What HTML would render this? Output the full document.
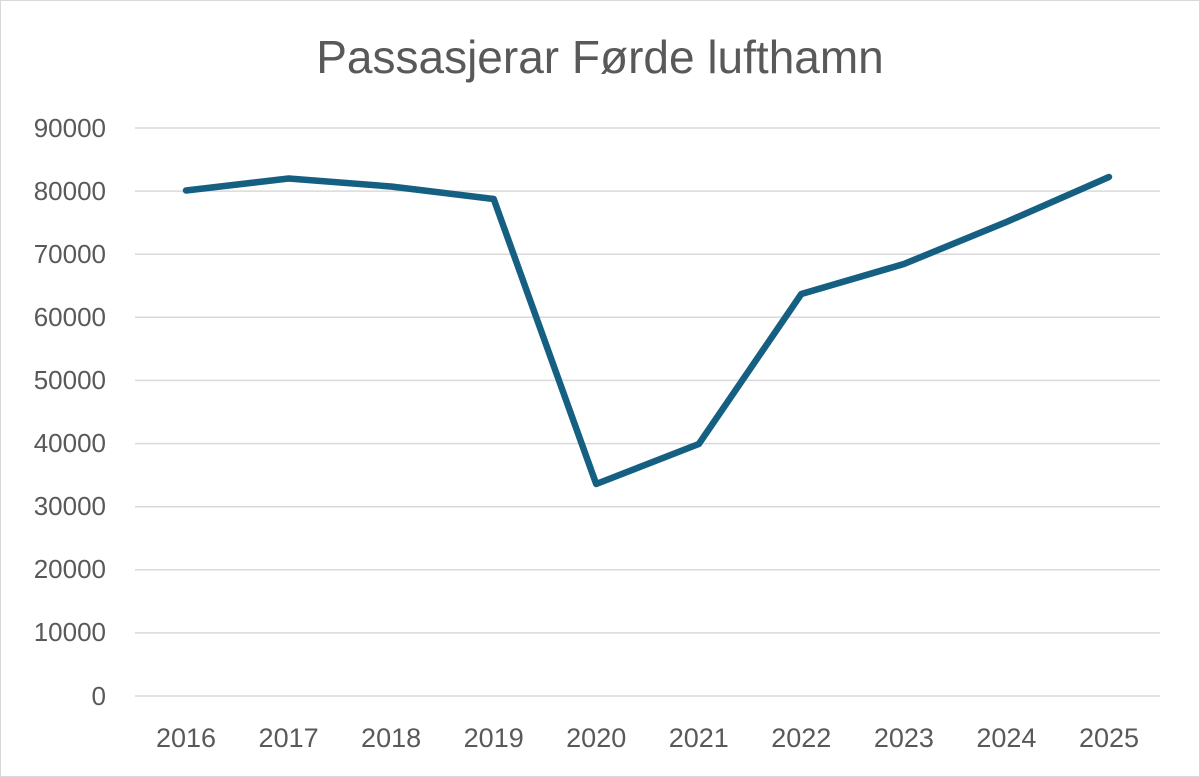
<!DOCTYPE html>
<html><head><meta charset="utf-8"><style>
body{margin:0;background:#fff}
svg{display:block}
text{font-family:"Liberation Sans",sans-serif;fill:#595959}
</style></head><body>
<svg width="1200" height="777" viewBox="0 0 1200 777">
<rect x="0.5" y="0.5" width="1199" height="776" fill="#fff" stroke="#d9d9d9"/>
<text x="600" y="73" font-size="46" text-anchor="middle">Passasjerar Førde lufthamn</text>
<g stroke="#d9d9d9" stroke-width="1.5">
<line x1="135" x2="1160" y1="128" y2="128"/>
<line x1="135" x2="1160" y1="191.1" y2="191.1"/>
<line x1="135" x2="1160" y1="254.2" y2="254.2"/>
<line x1="135" x2="1160" y1="317.3" y2="317.3"/>
<line x1="135" x2="1160" y1="380.4" y2="380.4"/>
<line x1="135" x2="1160" y1="443.6" y2="443.6"/>
<line x1="135" x2="1160" y1="506.7" y2="506.7"/>
<line x1="135" x2="1160" y1="569.8" y2="569.8"/>
<line x1="135" x2="1160" y1="632.9" y2="632.9"/>
<line x1="135" x2="1160" y1="696" y2="696"/>
</g>
<g font-size="26" text-anchor="end">
<text x="106" y="137">90000</text>
<text x="106" y="200">80000</text>
<text x="106" y="263">70000</text>
<text x="106" y="326">60000</text>
<text x="106" y="389">50000</text>
<text x="106" y="452">40000</text>
<text x="106" y="515">30000</text>
<text x="106" y="578">20000</text>
<text x="106" y="641">10000</text>
<text x="106" y="705">0</text>
</g>
<g font-size="27" text-anchor="middle">
<text x="186" y="747">2016</text>
<text x="288.6" y="747">2017</text>
<text x="391.1" y="747">2018</text>
<text x="493.7" y="747">2019</text>
<text x="596.2" y="747">2020</text>
<text x="698.8" y="747">2021</text>
<text x="801.3" y="747">2022</text>
<text x="903.9" y="747">2023</text>
<text x="1006.4" y="747">2024</text>
<text x="1109" y="747">2025</text>
</g>
<polyline fill="none" stroke="#156082" stroke-width="6.5" stroke-linejoin="round" stroke-linecap="round"
points="186,190.5 288.6,178.5 391.1,186.5 493.7,199 596.2,484 698.8,444 801.3,294 903.9,264 1006.4,222 1109,177"/>
</svg>
</body></html>
